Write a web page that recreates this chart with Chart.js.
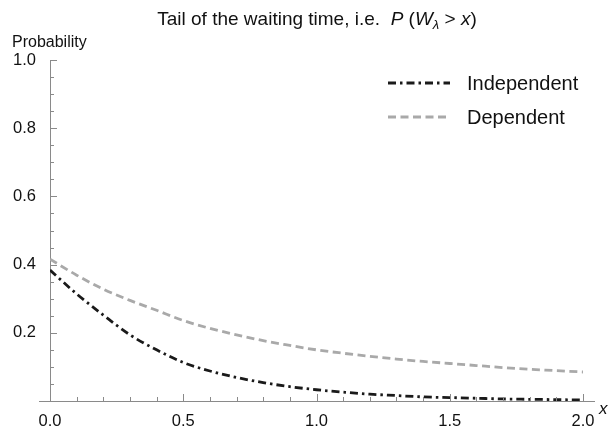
<!DOCTYPE html>
<html>
<head>
<meta charset="utf-8">
<script src="https://cdn.jsdelivr.net/npm/chart.js@4/dist/chart.umd.min.js"></script>
<style>
    body { margin: 0; background: #fff; }
</style>
</head>
<body>
<canvas id="tailChart" width="614" height="426"></canvas>
<script>
// Values
const xValues = [0.0, 0.1, 0.2, 0.3, 0.4, 0.5, 0.6, 0.7, 0.8, 0.9, 1.0,
                 1.1, 1.2, 1.3, 1.4, 1.5, 1.6, 1.7, 1.8, 1.9, 2.0];
const independent = [0.384, 0.314, 0.252, 0.194, 0.150, 0.113, 0.088, 0.069, 0.054, 0.042, 0.033,
                     0.026, 0.020, 0.016, 0.012, 0.010, 0.008, 0.006, 0.005, 0.004, 0.003];
const dependent = [0.416, 0.369, 0.328, 0.295, 0.266, 0.236, 0.213, 0.194, 0.177, 0.163, 0.150,
                   0.140, 0.131, 0.123, 0.116, 0.110, 0.104, 0.098, 0.093, 0.089, 0.085];
const seriesNames = ['Independent', 'Dependent'];
const xTicks = [0, 0.5, 1, 1.5, 2];
const yTicks = [0.2, 0.4, 0.6, 0.8, 1.0];

const FONT = '"Liberation Sans", Arial, sans-serif';
const AXIS_COLOR = '#8a8a8a';
const TEXT_COLOR = '#111';

function toPoints(ys) {
    return xValues.map((x, i) => ({ x: x, y: ys[i] }));
}

// Axis ticks (inward, Mathematica style), title, labels and legend
const decorations = {
    id: 'decorations',
    afterDraw(chart) {
        const ctx = chart.ctx;
        const xs = chart.scales.x;
        const ys = chart.scales.y;
        const area = chart.chartArea;
        const x0 = xs.getPixelForValue(0);
        const y0 = ys.getPixelForValue(0);

        ctx.save();
        ctx.strokeStyle = AXIS_COLOR;
        ctx.lineWidth = 1;

        // x axis line, a little past the y axis on the left
        ctx.beginPath();
        ctx.moveTo(x0 - 11, Math.round(y0) + 0.5);
        ctx.lineTo(area.right, Math.round(y0) + 0.5);
        ctx.stroke();

        // x ticks every 0.1, major every 0.5
        for (let i = 1; i <= 20; i++) {
            const px = Math.round(xs.getPixelForValue(i / 10)) + 0.5;
            const len = i % 5 === 0 ? 7 : 4;
            ctx.beginPath();
            ctx.moveTo(px, y0);
            ctx.lineTo(px, y0 - len);
            ctx.stroke();
        }
        // y ticks every 0.05, major every 0.2
        for (let i = 1; i <= 20; i++) {
            const py = Math.round(ys.getPixelForValue(i / 20)) + 0.5;
            const len = i % 4 === 0 ? 7 : 4;
            ctx.beginPath();
            ctx.moveTo(x0, py);
            ctx.lineTo(x0 + len, py);
            ctx.stroke();
        }

        // title with italic math part
        ctx.fillStyle = TEXT_COLOR;
        ctx.textBaseline = 'alphabetic';
        const base = 25;
        const parts = [
            { t: 'Tail of the waiting time, i.e.  ', f: '19px ' + FONT, dy: 0 },
            { t: 'P', f: 'italic 19px ' + FONT, dy: 0 },
            { t: ' (', f: '19px ' + FONT, dy: 0 },
            { t: 'W', f: 'italic 19px ' + FONT, dy: 0 },
            { t: 'λ', f: 'italic 13px ' + FONT, dy: 4 },
            { t: ' > ', f: '19px ' + FONT, dy: 0 },
            { t: 'x', f: 'italic 19px ' + FONT, dy: 0 },
            { t: ')', f: '19px ' + FONT, dy: 0 }
        ];
        let total = 0;
        parts.forEach(p => { ctx.font = p.f; p.w = ctx.measureText(p.t).width; total += p.w; });
        let tx = (x0 - 11 + area.right) / 2 - total / 2;
        ctx.textAlign = 'left';
        parts.forEach(p => {
            ctx.font = p.f;
            ctx.fillText(p.t, tx, base + p.dy);
            tx += p.w;
        });

        // axis labels
        ctx.font = '16px ' + FONT;
        ctx.fillText('Probability', 12, 47);
        ctx.font = 'italic 17px ' + FONT;
        ctx.textBaseline = 'middle';
        ctx.fillText('x', area.right + 4, y0 + 8);

        // legend
        const legendY = [83, 117];
        chart.data.datasets.forEach((ds, i) => {
            ctx.strokeStyle = ds.borderColor;
            ctx.lineWidth = ds.borderWidth;
            ctx.setLineDash(ds.borderDash);
            ctx.beginPath();
            ctx.moveTo(388, legendY[i]);
            ctx.lineTo(450, legendY[i]);
            ctx.stroke();
            ctx.setLineDash([]);
            ctx.fillStyle = TEXT_COLOR;
            ctx.font = '20px ' + FONT;
            ctx.fillText(ds.label, 467, legendY[i] + 1);
        });
        ctx.restore();
    }
};

const ctx = document.getElementById('tailChart').getContext('2d');
const tailChart = new Chart(ctx, {
    type: 'line',
    data: {
        datasets: [{
            label: seriesNames[0],
            data: toPoints(independent),
            borderColor: '#1a1a1a',
            borderWidth: 2.8,
            borderDash: [8, 4, 2.5, 4],
            pointRadius: 0,
            cubicInterpolationMode: 'monotone',
            fill: false
        }, {
            label: seriesNames[1],
            data: toPoints(dependent),
            borderColor: '#a9a9a9',
            borderWidth: 2.8,
            borderDash: [8, 4.5],
            pointRadius: 0,
            cubicInterpolationMode: 'monotone',
            fill: false
        }]
    },
    options: {
        responsive: false,
        animation: false,
        layout: { padding: { left: 0, right: 19, top: 60, bottom: 0 } },
        plugins: {
            legend: { display: false },
            tooltip: { enabled: false },
            title: { display: false }
        },
        scales: {
            x: {
                type: 'linear',
                min: 0,
                max: 2.045,
                afterBuildTicks: scale => { scale.ticks = xTicks.map(v => ({ value: v })); },
                afterFit: scale => { scale.height = 25; },
                grid: { display: false },
                border: { display: false },
                ticks: {
                    padding: 3,
                    maxRotation: 0,
                    color: TEXT_COLOR,
                    font: { family: FONT, size: 16.5 },
                    callback: v => Number(v).toFixed(1)
                }
            },
            y: {
                type: 'linear',
                min: 0,
                max: 1,
                afterBuildTicks: scale => { scale.ticks = yTicks.map(v => ({ value: v })); },
                afterFit: scale => { scale.width = 50; },
                grid: { display: false },
                border: { display: true, color: AXIS_COLOR, width: 1 },
                ticks: {
                    padding: 6,
                    color: TEXT_COLOR,
                    font: { family: FONT, size: 16.5 },
                    callback: v => Number(v).toFixed(1)
                }
            }
        }
    },
    plugins: [decorations]
});
</script>
</body>
</html>
